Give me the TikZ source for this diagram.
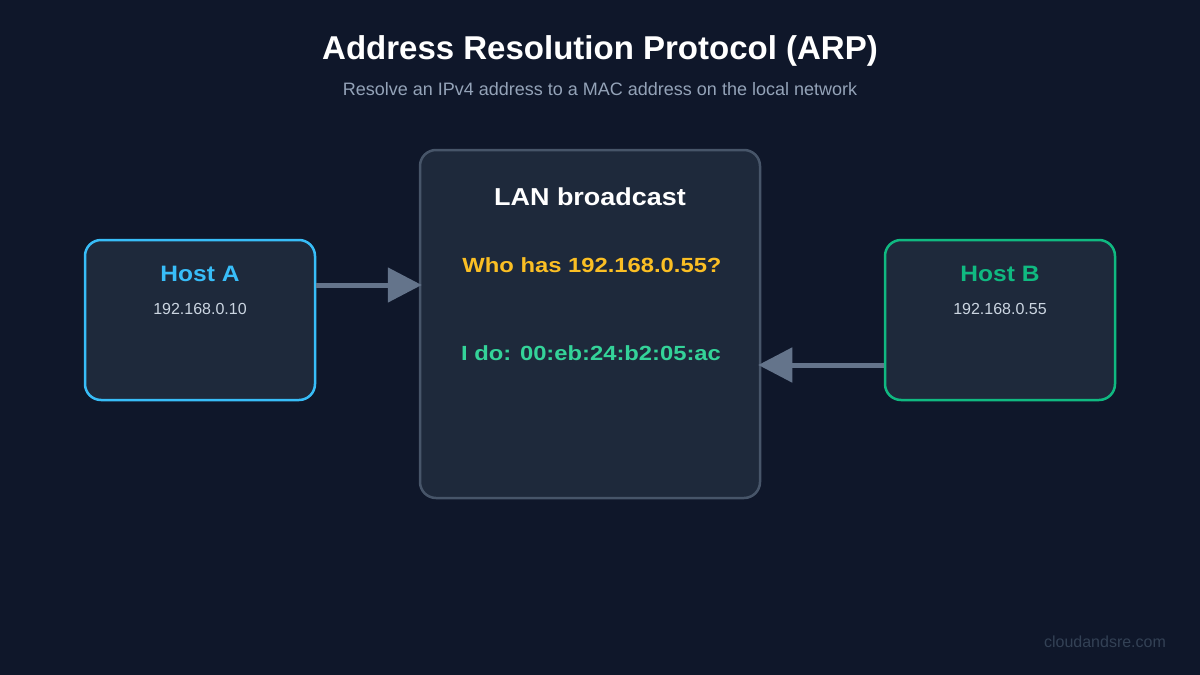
\documentclass[tikz,border=0pt]{standalone}
\usepackage{fontspec}
\setmainfont{Liberation Sans}
\newfontfamily\wideA[FakeStretch=1.16]{Liberation Sans}
\newfontfamily\wideB[FakeStretch=1.10]{Liberation Sans}
\usetikzlibrary{arrows.meta}
\definecolor{bg}{HTML}{0F172A}
\definecolor{boxfill}{HTML}{1E293B}
\definecolor{lanborder}{HTML}{475569}
\definecolor{arrowc}{HTML}{64748B}
\definecolor{hostA}{HTML}{38BDF8}
\definecolor{hostB}{HTML}{10B981}
\definecolor{iptext}{HTML}{CBD5E1}
\definecolor{subt}{HTML}{94A3B8}
\definecolor{who}{HTML}{FBBF24}
\definecolor{ido}{HTML}{34D399}
\definecolor{wm}{HTML}{334155}
\tikzset{
  box/.style={draw, fill=boxfill, rounded corners=16pt, line width=2.5pt, inner sep=0pt},
  lbl/.style={anchor=base, inner sep=0pt},
  arr/.style={draw=arrowc, line width=5pt, -{Triangle[length=34pt,width=34pt]}},
}
\begin{document}
\begin{tikzpicture}[x=1pt,y=-1pt]
\useasboundingbox[fill=bg] (0,0) rectangle (1200,675);
\node[box, draw=hostA, minimum width=230pt, minimum height=160pt] (A) at (200,320) {};
\node[box, draw=lanborder, minimum width=340pt, minimum height=348pt] (L) at (590,324) {};
\node[box, draw=hostB, minimum width=230pt, minimum height=160pt] (B) at (1000,320) {};
\node[lbl, text=white, font=\fontsize{33}{38}\selectfont\bfseries] (title) at (600,59) {Address Resolution Protocol (ARP)};
\node[lbl, text=subt, font=\fontsize{18}{21}\selectfont] (sub) at (600,95) {Resolve an IPv4 address to a MAC address on the local network};
\node[lbl, text=white, font=\fontsize{24.5}{28}\wideB\bfseries] (lan) at (590,205) {LAN broadcast};
\node[lbl, text=who, font=\fontsize{20.5}{24}\wideA\bfseries] (q) at (592,272) {Who has 192.168.0.55?};
\node[lbl, text=ido, font=\fontsize{20.5}{24}\wideA\bfseries] (r) at (591,360) {I do: 00:eb:24:b2:05:ac};
\node[lbl, text=hostA, font=\fontsize{22.3}{26}\wideB\bfseries] (an) at (200,281) {Host A};
\node[lbl, text=iptext, font=\fontsize{16}{19}\selectfont] (aip) at (200,314) {192.168.0.10};
\node[lbl, text=hostB, font=\fontsize{22.3}{26}\wideB\bfseries] (bn) at (1000,281) {Host B};
\node[lbl, text=iptext, font=\fontsize{16}{19}\selectfont] (bip) at (1000,314) {192.168.0.55};
\node[lbl, text=wm, font=\fontsize{16}{19}\selectfont] (wmk) at (1105,647) {cloudandsre.com};
\draw[arr] ([yshift=35pt]A.east) -- ([yshift=35pt,xshift=3pt]A.east -| L.west);
\draw[arr] ([yshift=-45pt]B.west) -- ([yshift=-45pt,xshift=-3pt]B.west -| L.east);
\end{tikzpicture}
\end{document}
